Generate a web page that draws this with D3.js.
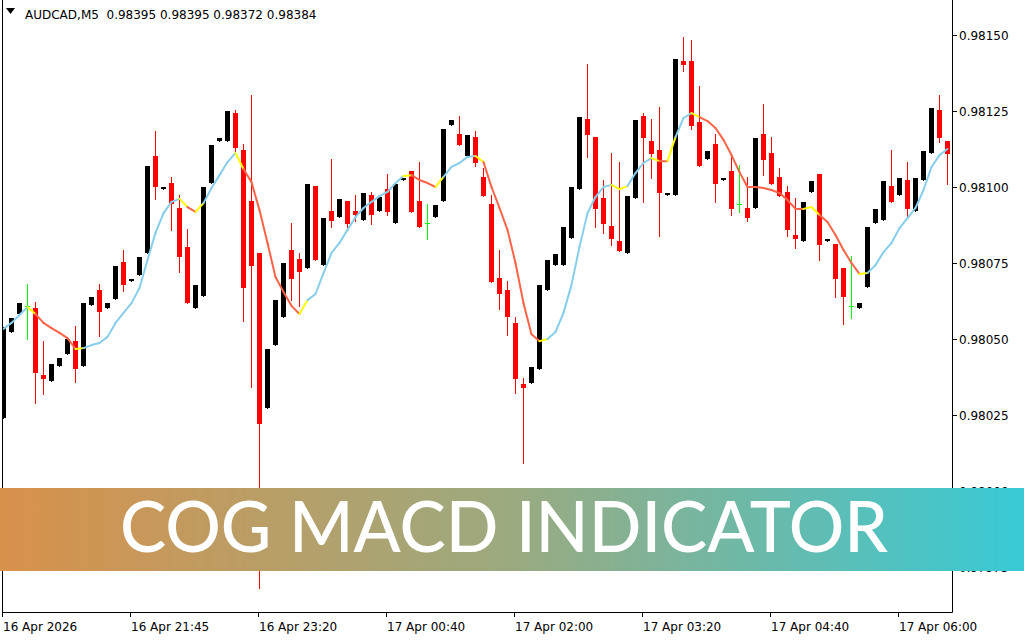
<!DOCTYPE html>
<html><head><meta charset="utf-8">
<script src="https://cdn.jsdelivr.net/npm/d3@7"></script>
<style>body{margin:0;background:#fff}svg{display:block}</style>
</head><body><svg id="c" width="1024" height="640"></svg>
<script>
// ---------- DATA ----------
const opens = [
0.980240,0.980523,0.980582,0.980609,0.980602,0.980382,0.980362,0.980411,0.980451,0.980493,
0.980411,0.980612,0.980661,0.980602,0.980632,0.980753,0.980691,0.980711,0.980783,0.981102,
0.980993,0.981013,0.980931,0.980803,0.980602,0.980641,0.981013,0.981151,0.981151,0.981243,
0.981122,0.980954,0.980783,0.980273,0.980480,0.980572,0.980793,0.980763,0.980734,0.981003,
0.980743,0.980921,0.980901,0.980954,0.980921,0.980891,0.980974,0.980921,0.980993,0.980882,
0.981023,0.981053,0.980954,0.980882,0.980901,0.980954,0.981204,0.981174,0.981102,0.981164,
0.981033,0.980944,0.980701,0.980661,0.980553,0.980352,0.980355,0.980401,0.980661,0.980743,
0.980743,0.980832,0.980993,0.981224,0.981164,0.980964,0.980872,0.980822,0.980783,0.980964,
0.981234,0.981151,0.981122,0.980974,0.980974,0.981414,0.981414,0.981214,0.981092,0.981141,
0.981023,0.981053,0.980944,0.980931,0.980931,0.981174,0.981112,0.981033,0.980984,0.980842,
0.980822,0.980984,0.981043,0.980822,0.980812,0.980734,0.980609,0.980602,0.980671,0.980882,
0.980891,0.981003,0.980974,0.981023,0.980921,0.981023,0.981112,0.981253,0.981151];
const highs = [
0.980539,0.980569,0.980618,0.980681,0.980622,0.980493,0.980418,0.980438,0.980500,0.980543,
0.980618,0.980638,0.980681,0.980618,0.980740,0.980793,0.980697,0.980770,0.981069,0.981184,
0.981000,0.981033,0.980974,0.980862,0.980678,0.981000,0.981138,0.981161,0.981250,0.981253,
0.981141,0.981303,0.980783,0.980467,0.980628,0.980750,0.980882,0.980783,0.981010,0.981003,
0.980898,0.981092,0.980961,0.980954,0.980974,0.980980,0.980984,0.980967,0.981043,0.981010,
0.981030,0.981053,0.981082,0.980944,0.980941,0.981191,0.981220,0.981234,0.981171,0.981184,
0.981062,0.980974,0.980793,0.980691,0.980572,0.980372,0.980408,0.980678,0.980760,0.980780,
0.980868,0.981000,0.981230,0.981405,0.981164,0.981023,0.981112,0.981082,0.980970,0.981220,
0.981243,0.981224,0.981263,0.980980,0.981421,0.981493,0.981484,0.981332,0.981118,0.981174,
0.981030,0.981099,0.981072,0.981033,0.981161,0.981273,0.981164,0.981062,0.981003,0.980964,
0.980951,0.981020,0.981043,0.980829,0.980812,0.980734,0.980773,0.980618,0.980868,0.980928,
0.981020,0.981122,0.981030,0.981082,0.981030,0.981118,0.981260,0.981303,0.981151];
const lows = [
0.980240,0.980523,0.980582,0.980500,0.980289,0.980319,0.980362,0.980411,0.980451,0.980359,
0.980411,0.980612,0.980510,0.980602,0.980632,0.980658,0.980691,0.980711,0.980783,0.980961,
0.980993,0.980859,0.980720,0.980618,0.980602,0.980641,0.981013,0.981151,0.981151,0.981115,
0.980559,0.980342,0.979681,0.980273,0.980480,0.980572,0.980628,0.980609,0.980734,0.980760,
0.980743,0.980868,0.980901,0.980868,0.980888,0.980891,0.980878,0.980921,0.980908,0.980882,
0.981023,0.980918,0.980868,0.980829,0.980901,0.980954,0.981204,0.981138,0.981102,0.981069,
0.980970,0.980688,0.980599,0.980513,0.980322,0.980092,0.980355,0.980401,0.980661,0.980743,
0.980743,0.980832,0.980993,0.981099,0.980868,0.980849,0.980809,0.980789,0.980783,0.980964,
0.980951,0.981030,0.980839,0.980974,0.980974,0.981382,0.981191,0.981069,0.981092,0.980951,
0.981023,0.980908,0.980918,0.980888,0.980931,0.981039,0.981010,0.980970,0.980839,0.980799,
0.980822,0.980984,0.980760,0.980822,0.980638,0.980549,0.980569,0.980602,0.980671,0.980882,
0.980891,0.980951,0.980974,0.980898,0.980921,0.981023,0.981112,0.981148,0.981010];
const closes = [
0.980539,0.980569,0.980618,0.980609,0.980388,0.980368,0.980418,0.980438,0.980500,0.980401,
0.980618,0.980638,0.980589,0.980618,0.980740,0.980678,0.980697,0.980770,0.981069,0.981000,
0.981000,0.980944,0.980770,0.980618,0.980678,0.981000,0.981138,0.981161,0.981250,0.981128,
0.980668,0.980740,0.980220,0.980467,0.980628,0.980750,0.980697,0.980720,0.981010,0.980760,
0.980898,0.980888,0.980961,0.980878,0.980908,0.980980,0.980908,0.980967,0.980918,0.981010,
0.981030,0.980918,0.980868,0.980882,0.980941,0.981191,0.981220,0.981138,0.981171,0.981079,
0.980970,0.980688,0.980648,0.980572,0.980368,0.980339,0.980408,0.980678,0.980760,0.980780,
0.980868,0.981000,0.981230,0.981171,0.980928,0.980878,0.980829,0.980789,0.980970,0.981220,
0.981161,0.981109,0.980980,0.980980,0.981421,0.981401,0.981201,0.981069,0.981118,0.981010,
0.981030,0.980928,0.980944,0.980898,0.981161,0.981089,0.981010,0.980970,0.980859,0.980829,
0.980951,0.981020,0.980809,0.980829,0.980697,0.980638,0.980609,0.980618,0.980868,0.980928,
0.981020,0.980951,0.981030,0.980928,0.981030,0.981118,0.981260,0.981161,0.981109];
const cogLine = [
0.980533,0.980553,0.980579,0.980605,0.980582,0.980553,0.980536,0.980520,0.980503,0.980467,
0.980470,0.980480,0.980487,0.980507,0.980553,0.980586,0.980618,0.980668,0.980760,0.980849,
0.980914,0.980951,0.980961,0.980934,0.980918,0.980947,0.980997,0.981039,0.981082,0.981112,
0.981059,0.981016,0.980924,0.980816,0.980704,0.980655,0.980609,0.980582,0.980628,0.980648,
0.980717,0.980783,0.980816,0.980859,0.980901,0.980931,0.980951,0.980970,0.980984,0.981013,
0.981036,0.981039,0.981023,0.981013,0.981000,0.981033,0.981066,0.981079,0.981099,0.981102,
0.981082,0.981000,0.980931,0.980859,0.980750,0.980618,0.980516,0.980493,0.980500,0.980523,
0.980586,0.980678,0.980803,0.980914,0.980967,0.981000,0.981007,0.980993,0.981003,0.981046,
0.981079,0.981095,0.981085,0.981085,0.981164,0.981227,0.981243,0.981230,0.981217,0.981194,
0.981155,0.981105,0.981049,0.981000,0.981000,0.980997,0.980990,0.980980,0.980957,0.980928,
0.980928,0.980934,0.980908,0.980885,0.980842,0.980793,0.980750,0.980714,0.980717,0.980743,
0.980786,0.980816,0.980865,0.980898,0.980931,0.980990,0.981066,0.981105,0.981125];
// segment state: b = rising, r = falling, y = turning
const cogState = ["bbb","y","rrrrr","y","bbbbbbbbbbbb","y","r","y","bbbb","y","rrrrrrr","y",
  "bbbbbbbbbbbb","y","rrr","y","bbbb","y","rrrrrrr","y","bbbbbbbb","yy","bbb","y","r","y",
  "bb","y","rrrrrrrrrrrrr","yy","rrrrr","y","bbbbbbbbbb"].join("");
const priceTicks = [0.97975,0.98000,0.98025,0.98050,0.98075,0.98100,0.98125,0.98150];
const timeTickIndex = [0,16,32,48,64,80,96,112];
const timeLabels = ["16 Apr 2026","16 Apr 21:45","16 Apr 23:20","17 Apr 00:40","17 Apr 02:00","17 Apr 03:20","17 Apr 04:40","17 Apr 06:00"];
const headerText = "AUDCAD,M5  0.98395 0.98395 0.98372 0.98384";
const bannerText = "COG MACD INDICATOR";

// ---------- CHART ----------
const svg = d3.select("#c");
const L = 3, R = 952, B = 612;
const x = d3.scaleLinear().domain([0, 118]).range([3.5, 947.5]);
const y = d3.scaleLinear().domain([0.97975, 0.98150]).range([567, 35]);
const stateColor = {b:"#87CEEB", r:"#FF6347", y:"#FFFF00"};

svg.append("rect").attr("width",1024).attr("height",640).attr("fill","#fff");
svg.append("defs").append("clipPath").attr("id","plot")
  .append("rect").attr("x",L).attr("y",0).attr("width",R-L).attr("height",B);

const data = opens.map((o,i)=>({i, o, h:highs[i], l:lows[i], c:closes[i]}));
const g = svg.append("g").attr("clip-path","url(#plot)");
const colorOf = d => d.c > d.o ? "#000" : (d.c < d.o ? "#FF0000" : "#00FF00");

// wicks
g.selectAll("line.w").data(data).join("line").attr("class","w")
  .attr("x1",d=>Math.floor(x(d.i))+0.5).attr("x2",d=>Math.floor(x(d.i))+0.5)
  .attr("y1",d=>Math.round(y(d.h))).attr("y2",d=>Math.round(y(d.l))+1)
  .attr("stroke",colorOf).attr("stroke-width",1);
// bodies (non-doji)
g.selectAll("rect.b").data(data.filter(d=>d.o!==d.c)).join("rect").attr("class","b")
  .attr("x",d=>Math.floor(x(d.i))-2).attr("width",5)
  .attr("y",d=>Math.round(y(Math.max(d.o,d.c))))
  .attr("height",d=>Math.max(2,Math.round(y(Math.min(d.o,d.c)))-Math.round(y(Math.max(d.o,d.c)))))
  .attr("fill",colorOf);
// doji ticks
g.selectAll("line.d").data(data.filter(d=>d.o===d.c)).join("line").attr("class","d")
  .attr("x1",d=>Math.floor(x(d.i))-2).attr("x2",d=>Math.floor(x(d.i))+3)
  .attr("y1",d=>Math.round(y(d.o))+0.5).attr("y2",d=>Math.round(y(d.o))+0.5)
  .attr("stroke","#00FF00").attr("stroke-width",1);

// COG line segments
const segs = d3.range(cogLine.length-1).map(i=>({i, a:cogLine[i], b:cogLine[i+1], s:cogState[i]}));
g.selectAll("line.cog").data(segs).join("line").attr("class","cog")
  .attr("x1",d=>x(d.i)).attr("x2",d=>x(d.i+1))
  .attr("y1",d=>y(d.a)).attr("y2",d=>y(d.b))
  .attr("stroke",d=>stateColor[d.s]).attr("stroke-width",2).attr("stroke-linecap","round");

// frame
svg.append("path").attr("d",`M${L-0.5},0V${B+0.5}H${R+0.5}V0`).attr("fill","none").attr("stroke","#000").attr("stroke-width",1);

// price axis
const pa = svg.append("g");
pa.selectAll("line").data(priceTicks).join("line")
  .attr("x1",R).attr("x2",R+5).attr("y1",d=>Math.round(y(d))+0.5).attr("y2",d=>Math.round(y(d))+0.5)
  .attr("stroke","#000");
pa.selectAll("text").data(priceTicks).join("text")
  .attr("x",R+7).attr("y",d=>y(d)+4.5)
  .attr("font-family","DejaVu Sans, sans-serif").attr("font-size",12).attr("fill","#000")
  .text(d=>d3.format(".5f")(d));

// time axis
const ta = svg.append("g");
ta.selectAll("line").data(timeTickIndex).join("line")
  .attr("x1",d=>Math.floor(x(d))-0.5).attr("x2",d=>Math.floor(x(d))-0.5)
  .attr("y1",B).attr("y2",B+5).attr("stroke","#000");
ta.selectAll("text").data(timeTickIndex).join("text")
  .attr("x",d=>Math.floor(x(d))).attr("y",631)
  .attr("font-family","DejaVu Sans, sans-serif").attr("font-size",12).attr("fill","#000")
  .text((d,k)=>timeLabels[k]);

// header
svg.append("path").attr("d","M6,8H15L10.5,14Z").attr("fill","#000");
svg.append("text").attr("x",25).attr("y",19).style("white-space","pre")
  .attr("font-family","DejaVu Sans, sans-serif").attr("font-size",12).attr("fill","#000")
  .text(headerText);

// banner
const grad = svg.select("defs").append("linearGradient").attr("id","bg").attr("x1","0").attr("x2","1");
grad.append("stop").attr("offset","0").attr("stop-color","#D9914B");
grad.append("stop").attr("offset","0.5").attr("stop-color","#9BAA80");
grad.append("stop").attr("offset","1").attr("stop-color","#38CAD6");
svg.append("rect").attr("x",0).attr("y",488).attr("width",1024).attr("height",83).attr("fill","url(#bg)");
svg.append("text").attr("x",504).attr("y",552).attr("text-anchor","middle")
  .attr("font-family","Lato, 'Open Sans', sans-serif").attr("font-size",72).attr("font-weight",500)
  .attr("fill","#fff").attr("textLength",768).attr("lengthAdjust","spacingAndGlyphs")
  .text(bannerText);
</script></body></html>
